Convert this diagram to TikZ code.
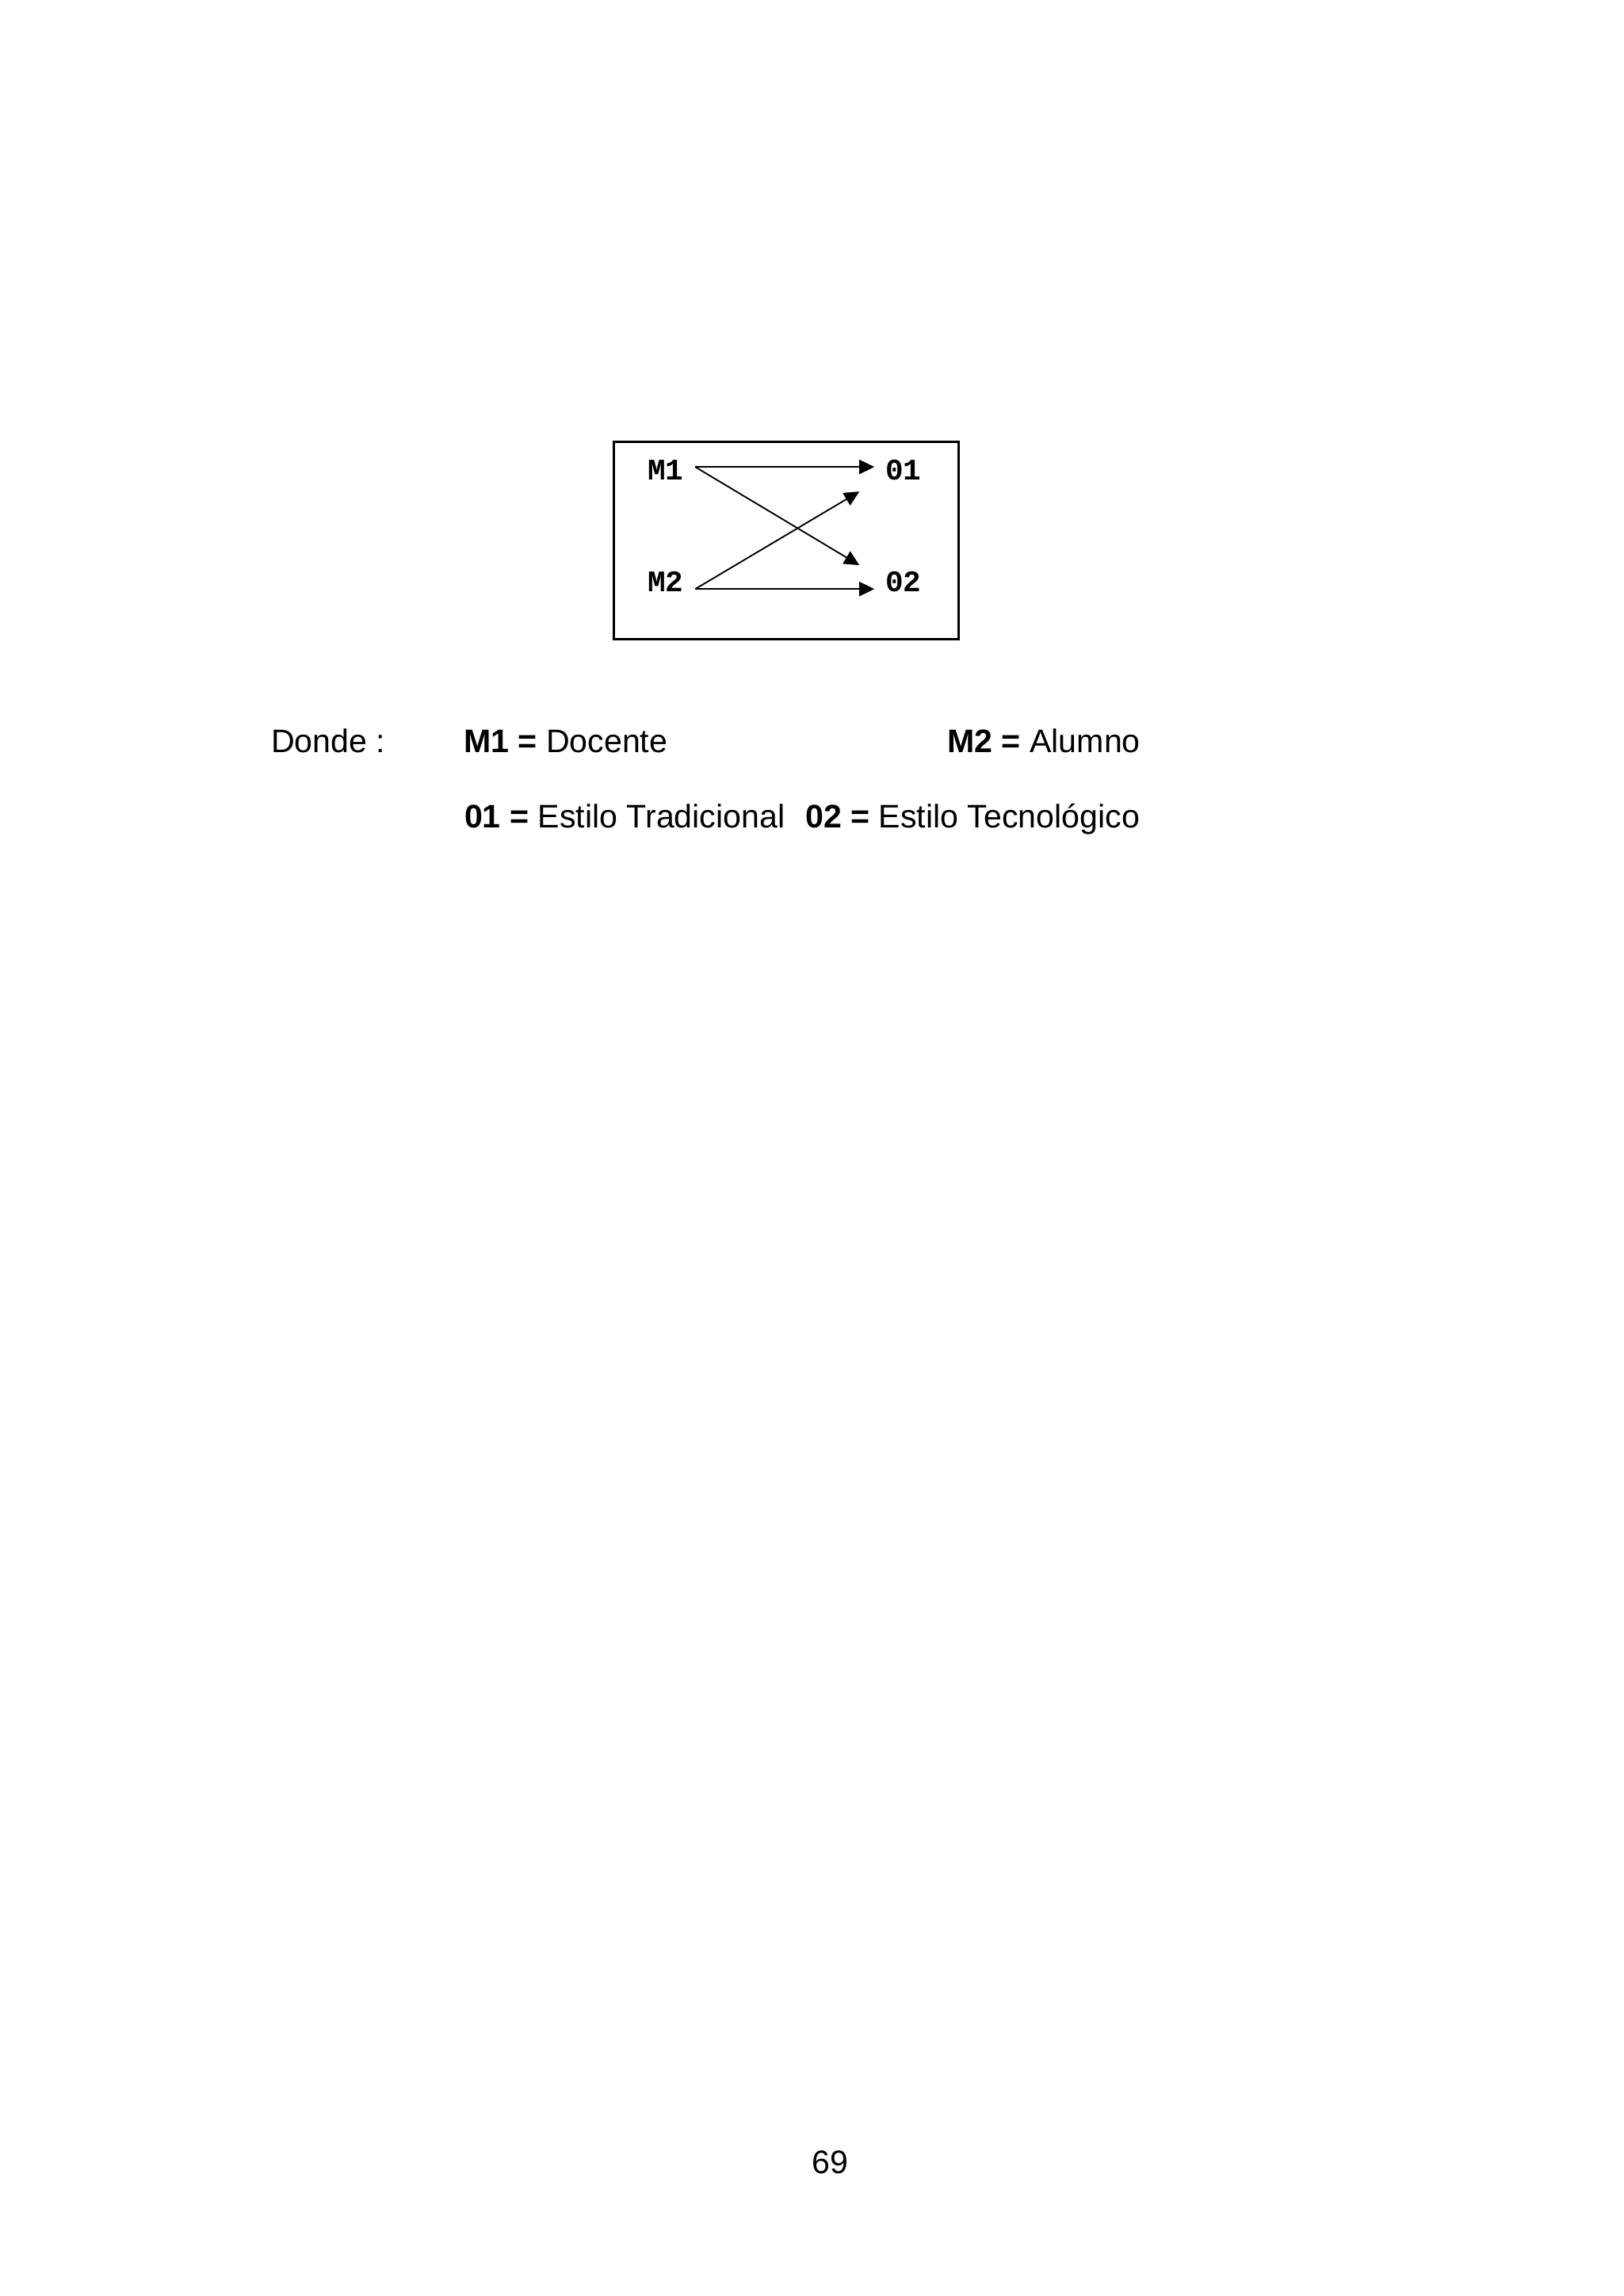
\documentclass[tikz,border=0pt]{standalone}
\usepackage{fontspec}
\setmainfont{Liberation Sans}
\newfontfamily\monofam{Liberation Mono}
\usetikzlibrary{arrows.meta}

\begin{document}
\begin{tikzpicture}[
        ->,
        >={Triangle[length=1.95mm, width=1.85mm]},
        line width=0.55pt,
        every node/.style={inner sep=0pt, anchor=base west},
        lbl/.style={font=\monofam\bfseries\fontsize{11}{13}\selectfont},
        txt/.style={font=\fontsize{12}{14}\selectfont}
    ]
    \useasboundingbox (0,0) rectangle (21,-29.7);

    % diseno
    \draw[-, line width=0.8pt] (7.937,-5.712) rectangle (12.397,-8.265);
    \node[lbl] (m1) at (8.367,-6.204) {M1};
    \node[lbl] (m2) at (8.367,-7.650) {M2};
    \node[lbl] (o1) at (11.444,-6.204) {01};
    \node[lbl] (o2) at (11.444,-7.650) {02};

    \coordinate (m1out) at (8.993,-6.040);
    \coordinate (m2out) at (8.993,-7.619);
    \coordinate (o1in) at (11.310,-6.040);
    \coordinate (o2in) at (11.310,-7.619);
    \coordinate (o1x) at (11.116,-6.358);
    \coordinate (o2x) at (11.116,-7.311);

    \draw (m1out) -- (o1in);
    \draw (m1out) -- (o2x);
    \draw (m2out) -- (o1x);
    \draw (m2out) -- (o2in);

    % leyenda
    \node[txt] (donde) at (3.497,-9.731) {Donde :};
    \node[txt] (docente) at (5.988,-9.731) {\textbf{M1 =} Docente};
    \node[txt] (alumno) at (12.244,-9.731) {\textbf{M2 =} Alumno};
    \node[txt] (tradicional) at (5.999,-10.705) {\textbf{01 =} Estilo Tradicional};
    \node[txt] (tecnologico) at (10.408,-10.705) {\textbf{02 =} Estilo Tecnológico};

    \node[txt] (pagina) at (10.490,-28.117) {69};
\end{tikzpicture}
\end{document}
